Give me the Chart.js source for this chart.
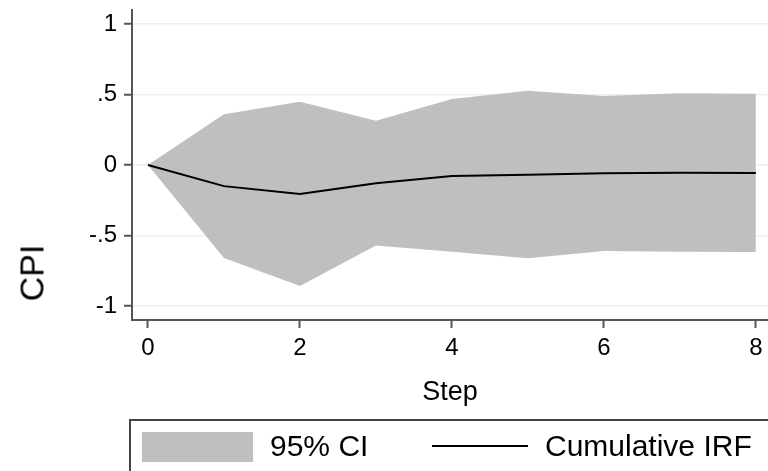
<!DOCTYPE html>
<html>
<head>
<meta charset="utf-8">
<script src="https://cdn.jsdelivr.net/npm/chart.js@4.4.1/dist/chart.umd.min.js"></script>
<style>
  html, body { margin: 0; padding: 0; background: #fff; }
  #wrap { position: relative; width: 768px; height: 471px; overflow: hidden; font-family: "Liberation Sans", Arial, Helvetica, sans-serif; }
  #irfChart { position: absolute; left: 0; top: 0; }
  #ytitle { position: absolute; left: 32px; top: 273px; transform: translate(-50%, -50%) rotate(-90deg); font-size: 34px; color: #000; white-space: nowrap; }
  #legend { position: absolute; left: 129px; top: 419px; width: 700px; height: 80px; border: 2px solid #444; box-sizing: border-box; }
  #legend .swatch { position: absolute; left: 11px; top: 11px; width: 111px; height: 30px; background: #bfbfbf; }
  #legend .line { position: absolute; left: 301px; top: 24px; width: 96px; height: 2px; background: #000; }
  #legend .lbl { position: absolute; top: 8px; font-size: 30px; color: #000; white-space: nowrap; }
</style>
</head>
<body>
<div id="wrap">
  <canvas id="irfChart" width="768" height="471"></canvas>
  <div id="ytitle">CPI</div>
  <div id="legend">
    <div class="swatch"></div>
    <div class="lbl" style="left:139px">95% CI</div>
    <div class="line"></div>
    <div class="lbl" style="left:414px">Cumulative IRF</div>
  </div>
</div>
<script>
/* --------------- Data --------------- */
const steps = [0, 1, 2, 3, 4, 5, 6, 7, 8];
const irf = [0, -0.15, -0.205, -0.13, -0.078, -0.07, -0.058, -0.055, -0.057];
const ciUpper = [0, 0.36, 0.449, 0.314, 0.468, 0.527, 0.49, 0.51, 0.506];
const ciLower = [0, -0.66, -0.858, -0.572, -0.615, -0.662, -0.61, -0.615, -0.617];
const xTicks = [0, 2, 4, 6, 8];
const yTicks = [-1, -0.5, 0, 0.5, 1];

const toPoints = (vals) => steps.map((s, i) => ({ x: s, y: vals[i] }));

// Stata style labels: .5 instead of 0.5
const stataNum = (v) => {
  if (v === 0) return "0";
  let s = String(v);
  return s.replace(/^(-?)0\./, "$1.");
};

const axisGrey = "#555555";

new Chart(document.getElementById("irfChart"), {
  type: "line",
  data: {
    datasets: [
      {
        label: "Cumulative IRF",
        data: toPoints(irf),
        borderColor: "#000000",
        borderWidth: 2,
        pointRadius: 0,
        fill: false,
      },
      {
        label: "95% CI",
        data: toPoints(ciUpper),
        borderWidth: 0,
        borderColor: "rgba(0,0,0,0)",
        backgroundColor: "#bfbfbf",
        pointRadius: 0,
        fill: "+1",
      },
      {
        label: "lower",
        data: toPoints(ciLower),
        borderWidth: 0,
        borderColor: "rgba(0,0,0,0)",
        pointRadius: 0,
        fill: false,
      },
    ],
  },
  options: {
    responsive: false,
    animation: false,
    layout: { padding: { top: 10, left: 0, right: 0, bottom: 60 } },
    plugins: { legend: { display: false }, tooltip: { enabled: false } },
    scales: {
      x: {
        type: "linear",
        min: -0.21,
        max: 8.16,
        afterBuildTicks: (scale) => { scale.ticks = xTicks.map((v) => ({ value: v })); },
        afterFit: (scale) => { scale.height = 91; scale.paddingLeft = 0; scale.paddingRight = 0; },
        grid: { drawOnChartArea: false, tickColor: axisGrey, tickLength: 8, tickWidth: 2 },
        border: { color: axisGrey, width: 2 },
        ticks: { color: "#000", padding: 6, maxRotation: 0, font: { family: "Liberation Sans", size: 24 } },
        title: { display: true, text: "Step", color: "#000", padding: { top: 0, bottom: 2 }, font: { family: "Liberation Sans", size: 27 } },
      },
      y: {
        min: -1.1,
        max: 1.1,
        afterBuildTicks: (scale) => { scale.ticks = yTicks.map((v) => ({ value: v })); },
        afterFit: (scale) => { scale.width = 132; scale.paddingTop = 0; scale.paddingBottom = 0; },
        grid: { color: "#e6eff1", lineWidth: 1.5, tickColor: axisGrey, tickLength: 8, tickWidth: 2 },
        border: { color: axisGrey, width: 2 },
        ticks: { color: "#000", padding: 7, callback: (v) => stataNum(v), font: { family: "Liberation Sans", size: 24 } },
      },
    },
  },
});
</script>
</body>
</html>
